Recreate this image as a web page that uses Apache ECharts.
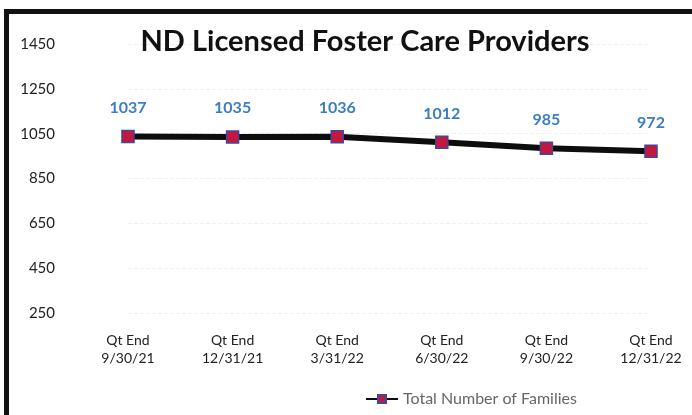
<!DOCTYPE html>
<html>
<head>
<meta charset="utf-8">
<script src="https://cdn.jsdelivr.net/npm/echarts@6/dist/echarts.min.js"></script>
<style>
  html, body { margin: 0; padding: 0; background: #fff; }
  #wrap { position: relative; width: 692px; height: 415px; }
  #myChart { width: 692px; height: 415px; }
  #frame {
    position: absolute; left: 4px; top: 9px; right: -6px; bottom: -6px;
    border-top: 5px solid #111; border-left: 5px solid #111;
    pointer-events: none;
  }
</style>
</head>
<body>
<div id="wrap">
  <div id="myChart"></div>
  <div id="frame"></div>
</div>
<script>
var categories = ['Qt End\n9/30/21', 'Qt End\n12/31/21', 'Qt End\n3/31/22', 'Qt End\n6/30/22', 'Qt End\n9/30/22', 'Qt End\n12/31/22']
var families = [1037, 1035, 1036, 1012, 985, 972]
var yMin = 250
var yMax = 1450
var yStep = 200

var myChart = echarts.init(document.getElementById('myChart'))
var option = {
  animation: false,
  title: {
    text: 'ND Licensed Foster Care Providers',
    left: 360,
    top: 22,
    textAlign: 'center',
    textStyle: {
      fontFamily: 'Lato',
      fontWeight: 'bold',
      fontSize: 29,
      color: '#111'
    }
  },
  legend: {
    left: 360,
    top: 386,
    itemWidth: 32,
    itemHeight: 10,
    itemGap: 2,
    textStyle: {
      fontFamily: 'Lato',
      fontSize: 16,
      color: '#666'
    },
    data: ['Total Number of Families']
  },
  grid: {
    left: 128,
    right: 41,
    top: 44,
    bottom: 102
  },
  xAxis: {
    type: 'category',
    boundaryGap: false,
    data: categories,
    axisLine: { show: false },
    axisTick: { show: false },
    axisLabel: {
      margin: 18,
      fontFamily: 'Lato',
      fontSize: 14,
      lineHeight: 18,
      color: '#222'
    }
  },
  yAxis: {
    type: 'value',
    min: yMin,
    max: yMax,
    interval: yStep,
    axisLine: { show: false },
    axisTick: { show: false },
    axisLabel: {
      margin: 73,
      fontFamily: 'Lato',
      fontSize: 15,
      color: '#222',
      formatter: function (v) { return String(v) }
    },
    splitLine: {
      lineStyle: { color: '#f0f0f0', type: 'dashed' }
    }
  },
  series: [{
    name: 'Total Number of Families',
    type: 'line',
    data: families,
    symbol: 'rect',
    symbolSize: 12,
    lineStyle: { color: '#0d0d0d', width: 6 },
    itemStyle: { color: '#c4163e', borderColor: '#3d4896', borderWidth: 1.5 },
    label: {
      show: true,
      position: 'top',
      distance: 14,
      fontFamily: 'Lato',
      fontWeight: 'bold',
      fontSize: 16,
      color: '#3b7dc4'
    }
  }]
}
myChart.setOption(option, true)
</script>
</body>
</html>
